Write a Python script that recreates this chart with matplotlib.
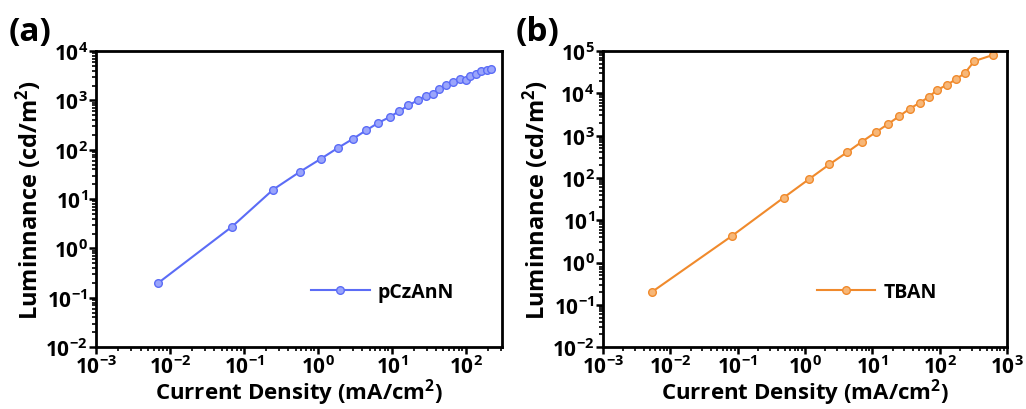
import numpy as np
import matplotlib
matplotlib.use("Agg")
import matplotlib.pyplot as plt
import matplotlib.ticker as ticker

plt.rcParams["font.family"] = ["Open Sans", "DejaVu Sans"]
plt.rcParams["font.weight"] = "bold"
plt.rcParams["mathtext.fontset"] = "custom"
plt.rcParams["mathtext.rm"] = "Open Sans:bold"
plt.rcParams["mathtext.bf"] = "Open Sans:bold"
plt.rcParams["mathtext.default"] = "bf"

# ── données ──────────────────────────────────────────────────────────────────
J_A = [0.0068, 0.0695, 0.249, 0.57, 1.09, 1.85, 3.0, 4.55, 6.6, 9.5, 12.6,
       16.8, 22.5, 28.8, 36, 43.6, 54.8, 67.4, 83.8, 102, 113, 136, 163, 192, 222]
L_A = [0.195, 2.78, 15.6, 35.6, 65, 108, 167, 250, 352, 465, 607,
       790, 1013, 1240, 1360, 1695, 2042, 2383, 2740, 2617, 3070, 3470, 3870, 4170, 4310]

J_B = [0.0053, 0.083, 0.48, 1.15, 2.3, 4.2, 7.0, 11.2, 17.1, 25.2, 35.9,
       50.5, 68.7, 92.5, 130, 175, 235, 327, 611]
L_B = [0.2, 4.3, 34, 94, 209, 403, 718, 1197, 1880, 2900, 4320,
       6000, 8180, 12170, 15960, 21770, 29700, 58000, 80300]

LABELS = ["pCzAnN", "TBAN"]
PANELS = ["(a)", "(b)"]
COLORS = ["#5b6cf6", "#f08a2c"]
FACES = ["#9aa5fb", "#f7b778"]
XLIMS = [(1e-3, 310), (1e-3, 1e3)]
YLIMS = [(1e-2, 1e4), (1e-2, 1e5)]

fig = plt.figure(figsize=(10.26, 4.10), dpi=100)
axes = [fig.add_axes([0.0936, 0.151, 0.3957, 0.722]),
        fig.add_axes([0.5877, 0.151, 0.3938, 0.722])]

data = [(J_A, L_A), (J_B, L_B)]
for i, ax in enumerate(axes):
    x, y = data[i]
    ax.plot(x, y, color=COLORS[i], linewidth=1.5, marker="o", markersize=5.5,
            markerfacecolor=FACES[i], markeredgecolor=COLORS[i],
            markeredgewidth=1.0, label=LABELS[i])
    ax.set_xscale("log")
    ax.set_yscale("log")
    ax.set_xlim(*XLIMS[i])
    ax.set_ylim(*YLIMS[i])

    ax.xaxis.set_major_locator(ticker.LogLocator(base=10, numticks=20))
    ax.yaxis.set_major_locator(ticker.LogLocator(base=10, numticks=20))
    ax.xaxis.set_minor_locator(ticker.LogLocator(base=10, subs=np.arange(2, 10), numticks=20))
    ax.yaxis.set_minor_locator(ticker.LogLocator(base=10, subs=np.arange(2, 10), numticks=20))
    ax.xaxis.set_minor_formatter(ticker.NullFormatter())
    ax.yaxis.set_minor_formatter(ticker.NullFormatter())

    ax.tick_params(which="major", direction="out", length=5, width=1.8,
                   labelsize=15, pad=1)
    ax.tick_params(which="minor", direction="out", length=3, width=1.2)
    for sp in ax.spines.values():
        sp.set_linewidth(2)

    ax.set_xlabel(r"Current Density (mA/cm$^{2}$)", fontsize=16, fontweight="bold")
    ax.xaxis.set_label_coords(0.5, -0.098, transform=ax.transAxes)
    ax.xaxis.label.set_va("top")
    ax.set_ylabel(r"Luminnance (cd/m$^{2}$)", fontsize=17, fontweight="bold",
                  labelpad=1)

    ax.legend(loc="center left", bbox_to_anchor=(0.53, 0.186), frameon=False,
              fontsize=14, handlelength=3.0, handletextpad=0.4,
              borderaxespad=0, borderpad=0)

    ax.text(-0.215, 1.01, PANELS[i], transform=ax.transAxes, fontsize=24,
            fontweight="bold", ha="left", va="bottom")

fig.savefig("out.png", dpi=100)
